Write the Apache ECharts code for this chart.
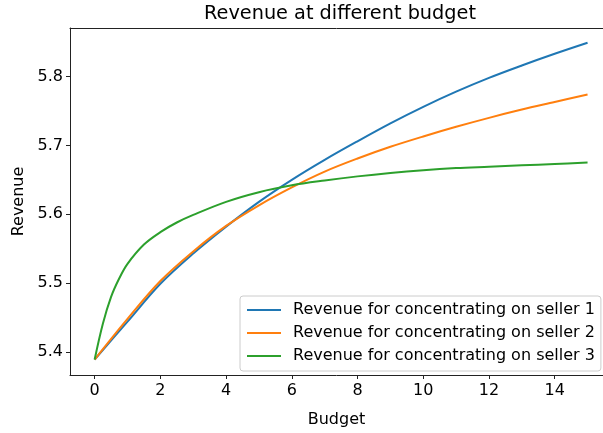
<!DOCTYPE html>
<html>
<head>
<meta charset="utf-8">
<script src="https://cdn.jsdelivr.net/npm/echarts@6/dist/echarts.min.js"></script>
<style>
html,body{margin:0;padding:0;background:#fff;}
#chart{width:603px;height:433px;}
</style>
</head>
<body>
<div id="chart"></div>
<script>
const titleText = 'Revenue at different budget';
const xName = 'Budget';
const yName = 'Revenue';
const seriesNames = [
  'Revenue for concentrating on seller 1',
  'Revenue for concentrating on seller 2',
  'Revenue for concentrating on seller 3'
];
const xTicks = [0, 2, 4, 6, 8, 10, 12, 14];
const yTicks = [5.4, 5.5, 5.6, 5.7, 5.8];

const budget = [0,1,2,3,4,5,6,7,8,9,10,11,12,13,14,15];
const seller1 = [5.389,5.444,5.499,5.543,5.582,5.618,5.650,5.679,5.706,5.732,5.756,5.778,5.798,5.816,5.833,5.849];
const seller2 = [5.389,5.448,5.503,5.546,5.583,5.613,5.639,5.662,5.681,5.698,5.713,5.727,5.740,5.752,5.763,5.774];
const budget3 = [0,0.25,0.5,0.75,1,1.5,2,2.5,3,4,5,6,7,8,9,10,11,12,13,14,15];
const seller3 = [5.389,5.441,5.480,5.507,5.528,5.556,5.574,5.588,5.599,5.618,5.632,5.642,5.649,5.655,5.660,5.664,5.667,5.669,5.671,5.673,5.675];

const colors = ['#1f77b4', '#ff7f0e', '#2ca02c'];
const font = 'DejaVu Sans';
const fs = 16;

function pairs(xs, ys) { return xs.map((x, i) => [x, ys[i]]); }

const chart = echarts.init(document.getElementById('chart'), null, {renderer: 'canvas'});
chart.setOption({
  animation: false,
  backgroundColor: '#fff',
  color: colors,
  title: {
    text: titleText,
    left: 340,
    top: 4,
    padding: 0,
    textAlign: 'center',
    textStyle: {fontFamily: font, fontSize: 19.3, fontWeight: 'normal', color: '#000'}
  },
  grid: {
    left: 70, top: 28, right: 0, bottom: 53, show: false
  },
  legend: {
    orient: 'vertical',
    left: 240, top: 296,
    padding: [6, 6, 7, 6],
    itemWidth: 34, itemHeight: 16, itemGap: 7,
    backgroundColor: 'rgba(255,255,255,0.8)',
    borderColor: '#cccccc', borderWidth: 1, borderRadius: 3,
    itemStyle: {opacity: 0, borderWidth: 0},
    lineStyle: {width: 2},
    textStyle: {fontFamily: font, fontSize: fs, color: '#000', padding: [0, 0, 0, 7]},
    data: seriesNames
  },
  xAxis: [{
    type: 'value',
    min: -0.75, max: 15.47,
    name: xName, nameLocation: 'middle', nameGap: 37,
    nameTextStyle: {fontFamily: font, fontSize: fs, color: '#000'},
    axisLine: {show: true, onZero: false, lineStyle: {color: '#222', width: 1}},
    axisTick: {show: true, length: 4, lineStyle: {color: '#222', width: 1}, customValues: xTicks},
    axisLabel: {fontFamily: font, fontSize: fs, color: '#000', margin: 8, customValues: xTicks},
    splitLine: {show: false}
  }, {
    type: 'value', position: 'top',
    min: -0.75, max: 15.47,
    axisLine: {show: true, onZero: false, lineStyle: {color: '#222', width: 1}},
    axisTick: {show: false}, axisLabel: {show: false}, splitLine: {show: false}
  }],
  yAxis: {
    type: 'value',
    min: 5.3665, max: 5.8705,
    name: yName, nameLocation: 'middle', nameGap: 43, nameRotate: 90,
    nameTextStyle: {fontFamily: font, fontSize: fs, color: '#000'},
    axisLine: {show: true, onZero: false, lineStyle: {color: '#222', width: 1}},
    axisTick: {show: true, length: 4, lineStyle: {color: '#222', width: 1}, customValues: yTicks},
    axisLabel: {fontFamily: font, fontSize: fs, color: '#000', margin: 7, customValues: yTicks,
      formatter: v => v.toFixed(1)},
    splitLine: {show: false}
  },
  series: [
    {name: seriesNames[0], type: 'line', data: pairs(budget, seller1), symbol: 'none', smooth: 0.35, lineStyle: {width: 2}},
    {name: seriesNames[1], type: 'line', data: pairs(budget, seller2), symbol: 'none', smooth: 0.35, lineStyle: {width: 2}},
    {name: seriesNames[2], type: 'line', data: pairs(budget3, seller3), symbol: 'none', smooth: 0.35, lineStyle: {width: 2}}
  ]
});
</script>
</body>
</html>
